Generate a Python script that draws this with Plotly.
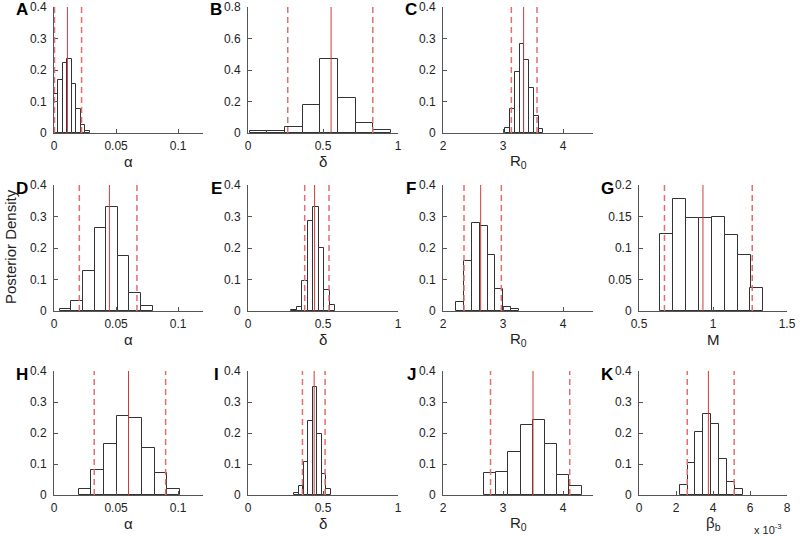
import plotly.graph_objects as go

# posterior histograms: bin centres and relative frequencies
A_x = [0.0018, 0.0054, 0.0090, 0.0126, 0.0162, 0.0198, 0.0234, 0.0270]
A_y = [0.125, 0.169, 0.222, 0.236, 0.154, 0.075, 0.026, 0.007]
A_ci = [0.0004, 0.0108, 0.0222]

B_x = [0.069, 0.187, 0.305, 0.423, 0.541, 0.659, 0.777, 0.895]
B_y = [0.011, 0.015, 0.038, 0.180, 0.468, 0.224, 0.066, 0.022]
B_ci = [0.265, 0.554, 0.832]

C_x = [3.079, 3.158, 3.237, 3.316, 3.395, 3.474, 3.553, 3.632]
C_y = [0.017, 0.077, 0.194, 0.284, 0.233, 0.144, 0.054, 0.014]
C_ci = [3.139, 3.344, 3.567]

D_x = [0.0092, 0.0186, 0.0280, 0.0374, 0.0468, 0.0561, 0.0655, 0.0749]
D_y = [0.007, 0.033, 0.127, 0.262, 0.329, 0.176, 0.057, 0.015]
D_ci = [0.0204, 0.0446, 0.0668]

E_x = [0.307, 0.344, 0.381, 0.417, 0.454, 0.490, 0.527, 0.564]
E_y = [0.002, 0.014, 0.095, 0.286, 0.329, 0.201, 0.066, 0.019]
E_ci = [0.378, 0.444, 0.540]

F_x = [2.287, 2.417, 2.547, 2.677, 2.807, 2.937, 3.066, 3.196]
F_y = [0.030, 0.160, 0.280, 0.271, 0.178, 0.069, 0.012, 0.006]
F_ci = [2.350, 2.628, 2.972]

G_x = [0.684, 0.772, 0.859, 0.947, 1.034, 1.122, 1.210, 1.297]
G_y = [0.123, 0.177, 0.148, 0.147, 0.149, 0.120, 0.089, 0.036]
G_ci = [0.672, 0.932, 1.265]

H_x = [0.0250, 0.0352, 0.0453, 0.0555, 0.0657, 0.0759, 0.0861, 0.0962]
H_y = [0.019, 0.080, 0.166, 0.256, 0.250, 0.151, 0.070, 0.019]
H_ci = [0.0324, 0.0600, 0.0899]

I_x = [0.324, 0.354, 0.385, 0.415, 0.446, 0.476, 0.506, 0.537]
I_y = [0.007, 0.029, 0.107, 0.238, 0.347, 0.196, 0.069, 0.020]
I_ci = [0.363, 0.441, 0.514]

J_x = [2.787, 2.990, 3.193, 3.396, 3.599, 3.802, 4.005, 4.208]
J_y = [0.071, 0.075, 0.138, 0.226, 0.241, 0.163, 0.065, 0.029]
J_ci = [2.792, 3.500, 4.112]

K_x = [0.002409, 0.002836, 0.003262, 0.003689, 0.004115, 0.004542, 0.004968, 0.005394]
K_y = [0.031, 0.104, 0.204, 0.261, 0.229, 0.116, 0.043, 0.020]
K_ci = [0.002607, 0.003750, 0.005143]

W, H = 800, 537
# pixel boxes of the axes: (left, right) and (top, bottom)
cols = [(54, 203), (248, 398), (443, 593), (639, 787)]
rows = [(7, 133), (185, 311), (371, 495)]

alpha_ax = dict(range=[0, 0.12], tickvals=[0, 0.05, 0.1], ticktext=["0", "0.05", "0.1"])
delta_ax = dict(range=[0, 1], tickvals=[0, 0.5, 1], ticktext=["0", "0.5", "1"])
r0_ax = dict(range=[2, 4.5], tickvals=[2, 3, 4], ticktext=["2", "3", "4"])
m_ax = dict(range=[0.5, 1.5], tickvals=[0.5, 1, 1.5], ticktext=["0.5", "1", "1.5"])
b_ax = dict(range=[0, 0.008], tickvals=[0, 0.002, 0.004, 0.006, 0.008], ticktext=["0", "2", "4", "6", "8"])

y04 = dict(range=[0, 0.4], tickvals=[0, 0.1, 0.2, 0.3, 0.4], ticktext=["0", "0.1", "0.2", "0.3", "0.4"])
y08 = dict(range=[0, 0.8], tickvals=[0, 0.2, 0.4, 0.6, 0.8], ticktext=["0", "0.2", "0.4", "0.6", "0.8"])
y02 = dict(range=[0, 0.2], tickvals=[0, 0.05, 0.1, 0.15, 0.2], ticktext=["0", "0.05", "0.1", "0.15", "0.2"])

panels = [
    ("A", 0, 0, A_x, A_y, A_ci, alpha_ax, y04, "α"),
    ("B", 0, 1, B_x, B_y, B_ci, delta_ax, y08, "δ"),
    ("C", 0, 2, C_x, C_y, C_ci, r0_ax, y04, "R<sub>0</sub>"),
    ("D", 1, 0, D_x, D_y, D_ci, alpha_ax, y04, "α"),
    ("E", 1, 1, E_x, E_y, E_ci, delta_ax, y04, "δ"),
    ("F", 1, 2, F_x, F_y, F_ci, r0_ax, y04, "R<sub>0</sub>"),
    ("G", 1, 3, G_x, G_y, G_ci, m_ax, y02, "M"),
    ("H", 2, 0, H_x, H_y, H_ci, alpha_ax, y04, "α"),
    ("I", 2, 1, I_x, I_y, I_ci, delta_ax, y04, "δ"),
    ("J", 2, 2, J_x, J_y, J_ci, r0_ax, y04, "R<sub>0</sub>"),
    ("K", 2, 3, K_x, K_y, K_ci, b_ax, y04, "β<sub>b</sub>"),
]

FONT = "Liberation Sans, Arial, sans-serif"
axis_common = dict(showline=True, linecolor="#555", linewidth=1, ticks="inside", ticklen=4,
                   tickcolor="#555", showgrid=False, zeroline=False, automargin=False,
                   tickfont=dict(family=FONT, size=12, color="#222"), fixedrange=True)

fig = go.Figure()
layout = {}
annotations = []
shapes = []

for i, (letter, r, c, xs, ys, ci, xax, yax, xtitle) in enumerate(panels, start=1):
    xn = "x" if i == 1 else f"x{i}"
    yn = "y" if i == 1 else f"y{i}"
    x0, x1 = cols[c]
    t, b = rows[r]
    layout["xaxis" if i == 1 else f"xaxis{i}"] = dict(axis_common, domain=[x0 / W, x1 / W], anchor=yn,
                                                      ticklabelstandoff=2, **xax)
    layout["yaxis" if i == 1 else f"yaxis{i}"] = dict(axis_common, domain=[1 - b / H, 1 - t / H], anchor=xn,
                                                      ticklabelstandoff=4, **yax)

    fig.add_trace(go.Bar(x=xs, y=ys, width=xs[1] - xs[0], xaxis=xn, yaxis=yn,
                         marker=dict(color="white", line=dict(color="#333", width=1)),
                         showlegend=False, hoverinfo="x+y"))

    # credible interval (dashed) and median (solid)
    for k, v in enumerate(ci):
        solid = k == 1
        shapes.append(dict(type="line", xref=xn, yref=f"{yn} domain", x0=v, x1=v, y0=0, y1=1,
                           line=dict(color="rgb(205,60,60)" if solid else "rgb(228,110,110)",
                                     width=1 if solid else 1.5,
                                     dash="solid" if solid else "6px,4px")))

    annotations.append(dict(text=xtitle, xref=f"{xn} domain", yref=f"{yn} domain", x=0.5, y=0,
                            yshift=-28, showarrow=False, yanchor="middle",
                            font=dict(family=FONT, size=15, color="#222")))
    annotations.append(dict(text=f"<b>{letter}</b>", xref="paper", yref="paper",
                            x=(x0 - 32) / W, y=1 - (t + 3) / H, showarrow=False,
                            xanchor="center", yanchor="middle",
                            font=dict(family=FONT, size=17, color="black")))

annotations.append(dict(text="Posterior Density", xref="paper", yref="paper", x=10 / W, y=1 - 247 / H,
                        textangle=-90, showarrow=False, xanchor="center", yanchor="middle",
                        font=dict(family=FONT, size=15, color="#222")))
annotations.append(dict(text="x 10<sup>-3</sup>", xref="paper", yref="paper", x=768 / W, y=1 - 529 / H,
                        showarrow=False, xanchor="center", yanchor="middle",
                        font=dict(family=FONT, size=11, color="#222")))

fig.update_layout(
    width=W, height=H,
    margin=dict(l=0, r=0, t=0, b=0),
    paper_bgcolor="white", plot_bgcolor="white",
    bargap=0, showlegend=False,
    annotations=annotations, shapes=shapes,
    **layout
)

# drop the page's default body margin so the figure sits at the window's corner
fig.write_html("out.html", config={"displayModeBar": False},
               post_script="document.body.style.margin='0';document.body.style.overflow='hidden';")
